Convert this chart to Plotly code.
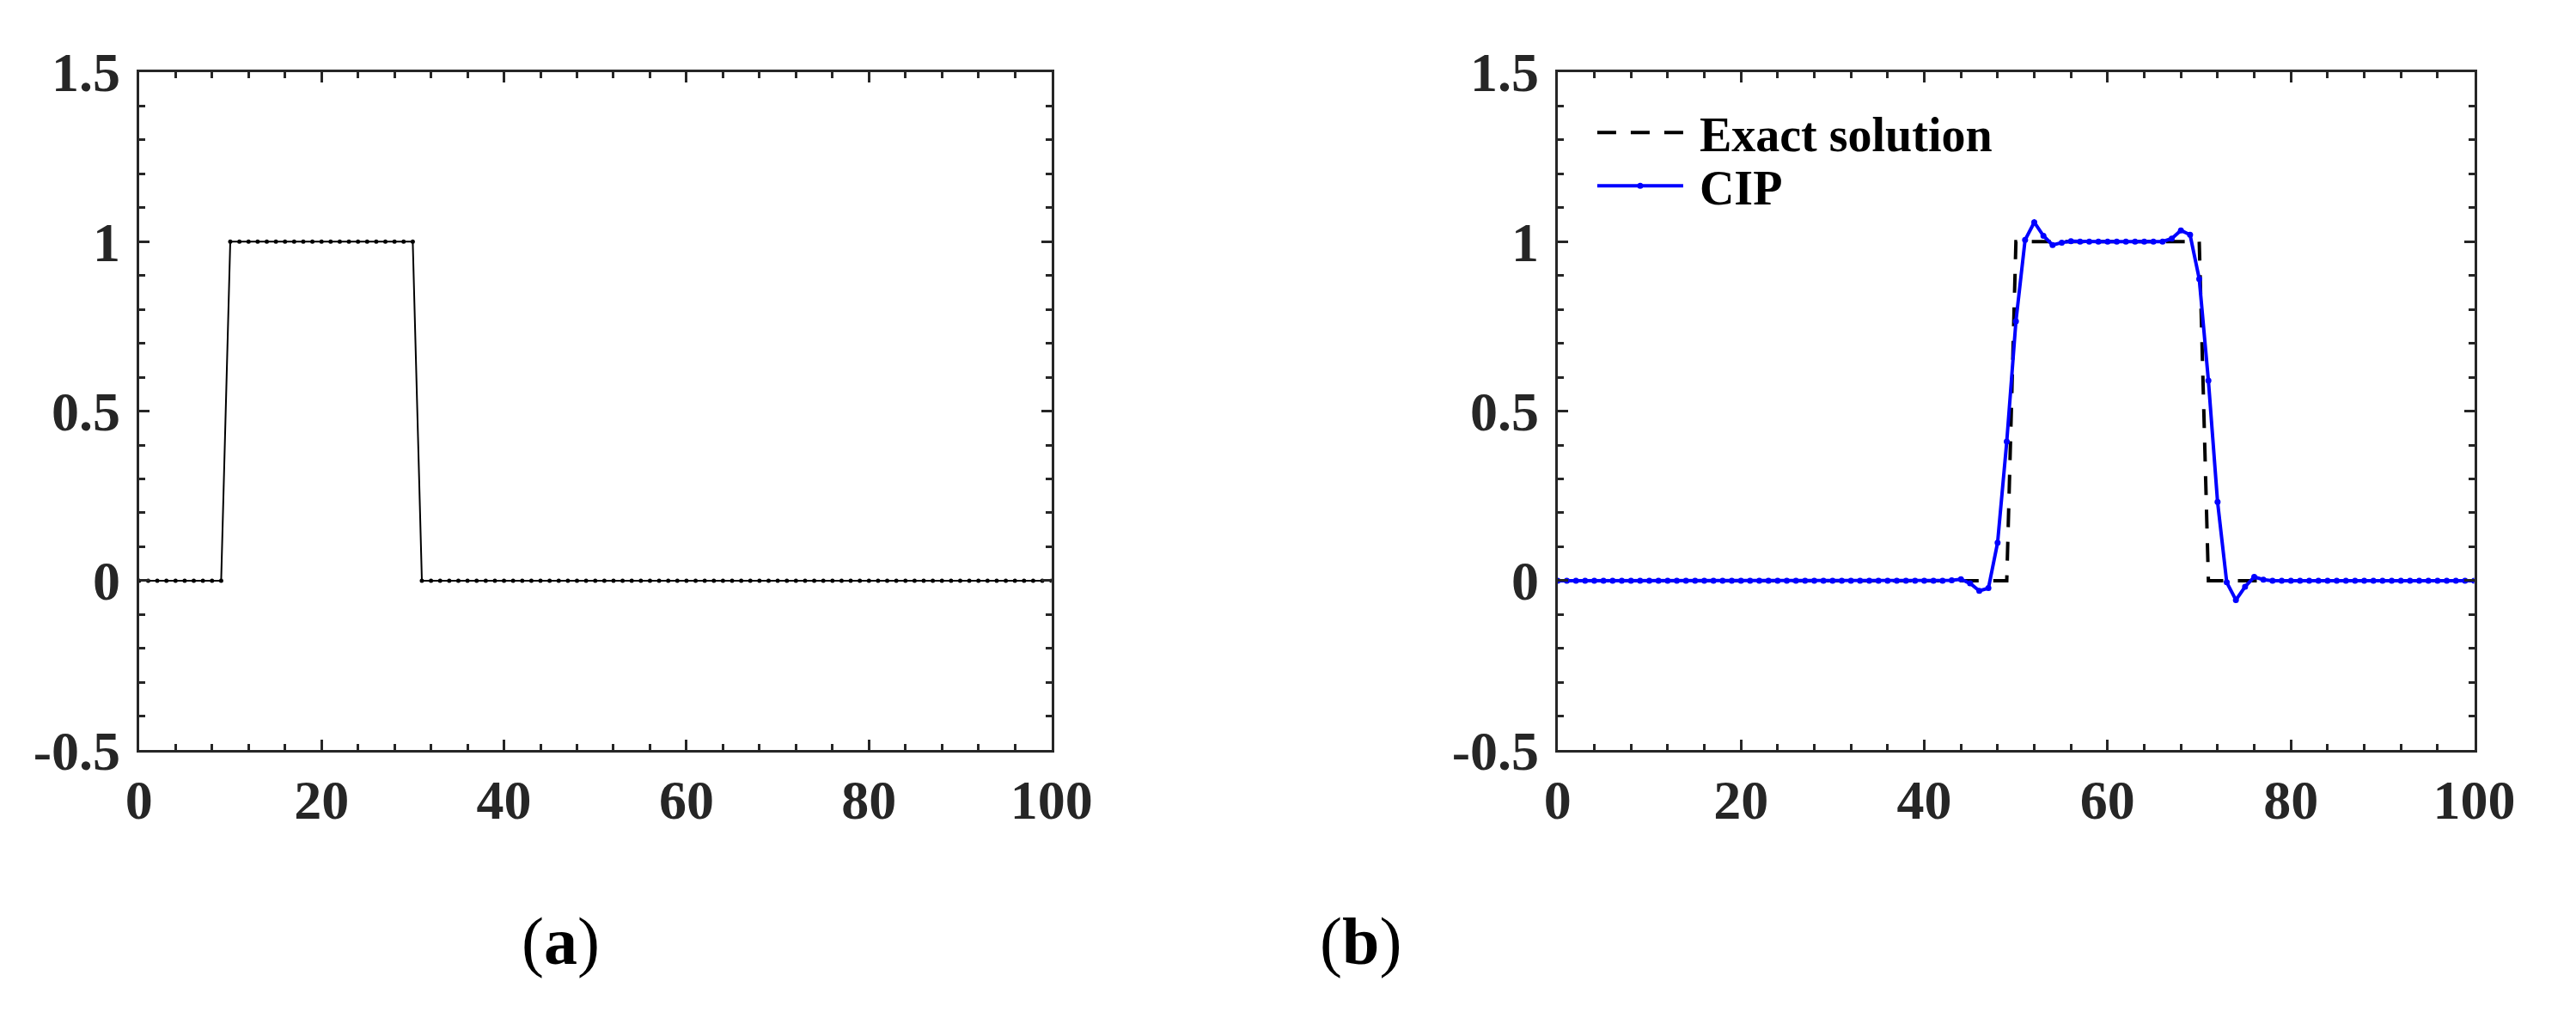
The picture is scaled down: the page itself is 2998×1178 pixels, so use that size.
import plotly.graph_objects as go
from plotly.subplots import make_subplots

# grid points 0..100
grid_x = list(range(101))

# (a) initial profile
initial_u = [
    0, 0, 0, 0, 0, 0, 0, 0, 0, 0,
    1, 1, 1, 1, 1, 1, 1, 1, 1, 1,
    1, 1, 1, 1, 1, 1, 1, 1, 1, 1,
    1, 0, 0, 0, 0, 0, 0, 0, 0, 0,
    0, 0, 0, 0, 0, 0, 0, 0, 0, 0,
    0, 0, 0, 0, 0, 0, 0, 0, 0, 0,
    0, 0, 0, 0, 0, 0, 0, 0, 0, 0,
    0, 0, 0, 0, 0, 0, 0, 0, 0, 0,
    0, 0, 0, 0, 0, 0, 0, 0, 0, 0,
    0, 0, 0, 0, 0, 0, 0, 0, 0, 0,
    0,
]

# (b) exact solution after advection
exact_u = [
    0, 0, 0, 0, 0, 0, 0, 0, 0, 0,
    0, 0, 0, 0, 0, 0, 0, 0, 0, 0,
    0, 0, 0, 0, 0, 0, 0, 0, 0, 0,
    0, 0, 0, 0, 0, 0, 0, 0, 0, 0,
    0, 0, 0, 0, 0, 0, 0, 0, 0, 0,
    1, 1, 1, 1, 1, 1, 1, 1, 1, 1,
    1, 1, 1, 1, 1, 1, 1, 1, 1, 1,
    1, 0, 0, 0, 0, 0, 0, 0, 0, 0,
    0, 0, 0, 0, 0, 0, 0, 0, 0, 0,
    0, 0, 0, 0, 0, 0, 0, 0, 0, 0,
    0,
]

# (b) CIP numerical solution
cip_u = [
    0, 0, 0, 0, 0, 0, 0, 0, 0, 0,
    0, 0, 0, 0, 0, 0, 0, 0, 0, 0,
    0, 0, 0, 0, 0, 0, 0, 0, 0, 0,
    0, 0, 0, 0, 0, 0, 0, 0, 0, 0,
    0, 0, 0, 0.001, 0.004, -0.008, -0.03, -0.022, 0.112, 0.41,
    0.765, 1.005, 1.057, 1.017, 0.99, 0.997, 1.001, 1.0, 1.0, 1.0,
    1.0, 1.0, 1.0, 1.0, 1.0, 1.0, 1.0, 1.009, 1.033, 1.02,
    0.89, 0.59, 0.232, -0.005, -0.057, -0.018, 0.011, 0.003, 0, 0,
    0, 0, 0, 0, 0, 0, 0, 0, 0, 0,
    0, 0, 0, 0, 0, 0, 0, 0, 0, 0,
    0,
]

y_tickvals = [-0.5, 0, 0.5, 1, 1.5]
y_ticktext = ["-0.5", "0", "0.5", "1", "1.5"]
x_tickvals = [0, 20, 40, 60, 80, 100]
panel_labels = ["(<b>a</b>)", "(<b>b</b>)"]

FONT = "Liberation Serif"
AXC = "#262626"

fig = make_subplots(rows=1, cols=2)

# (a)
fig.add_trace(go.Scatter(x=grid_x, y=initial_u, mode="lines+markers",
                         line=dict(color="black", width=2),
                         marker=dict(color="black", size=5),
                         showlegend=False), row=1, col=1)
# (b)
fig.add_trace(go.Scatter(x=grid_x, y=exact_u, mode="lines",
                         name="\u00a0Exact solution", legend="legend",
                         line=dict(color="black", width=4, dash="22px,17px")),
              row=1, col=2)
fig.add_trace(go.Scatter(x=grid_x, y=cip_u, mode="lines+markers",
                         name="\u00a0CIP", legend="legend2",
                         line=dict(color="#0000ff", width=4),
                         marker=dict(color="#0000ff", size=7)),
              row=1, col=2)

axis_common = dict(showline=True, linecolor=AXC, linewidth=3, mirror="ticks",
                   ticks="inside", ticklen=12, tickwidth=2.5, tickcolor=AXC,
                   showgrid=False, zeroline=False,
                   tickfont=dict(family=FONT, size=64, color=AXC, weight="bold"))

fig.update_xaxes(range=[0, 100], tickvals=x_tickvals, ticklabelstandoff=0,
                 minor=dict(ticks="inside", dtick=4, ticklen=7, tickwidth=2.5,
                            tickcolor=AXC, showgrid=False),
                 **axis_common)
fig.update_yaxes(range=[-0.5, 1.5], tickvals=y_tickvals, ticktext=y_ticktext,
                 ticklabelstandoff=6,
                 minor=dict(ticks="inside", dtick=0.1, ticklen=7, tickwidth=2.5,
                            tickcolor=AXC, showgrid=False),
                 **axis_common)

legend_style = dict(xanchor="left", yanchor="middle", bgcolor="rgba(0,0,0,0)",
                    itemwidth=100,
                    font=dict(family=FONT, size=56, color="black", weight="bold"))

fig.update_layout(
    width=2998, height=1178,
    margin=dict(l=0, r=0, t=0, b=0),
    paper_bgcolor="white", plot_bgcolor="white",
    xaxis=dict(domain=[149 / 2998, 1234 / 2998]),
    xaxis2=dict(domain=[1836 / 2998, 2926 / 2998]),
    yaxis=dict(domain=[1 - 892 / 1178, 1 - 52 / 1178]),
    yaxis2=dict(domain=[1 - 892 / 1178, 1 - 52 / 1178]),
    legend=dict(x=1878 / 2998, y=1 - 127 / 1178, **legend_style),
    legend2=dict(x=1878 / 2998, y=1 - 193 / 1178, **legend_style),
)

# panel captions
fig.add_annotation(text=panel_labels[0], x=650 / 2998, y=1 - 1128 / 1178,
                   xref="paper", yref="paper", showarrow=False,
                   xanchor="center", yanchor="middle",
                   font=dict(family=FONT, size=78, color="black"))
fig.add_annotation(text=panel_labels[1], x=1602 / 2998, y=1 - 1128 / 1178,
                   xref="paper", yref="paper", showarrow=False,
                   xanchor="center", yanchor="middle",
                   font=dict(family=FONT, size=78, color="black"))

# drop the default 8px body margin so the figure sits at the page origin
fig.write_html("out.html", config={"displayModeBar": False},
               post_script="document.body.style.margin='0';")
